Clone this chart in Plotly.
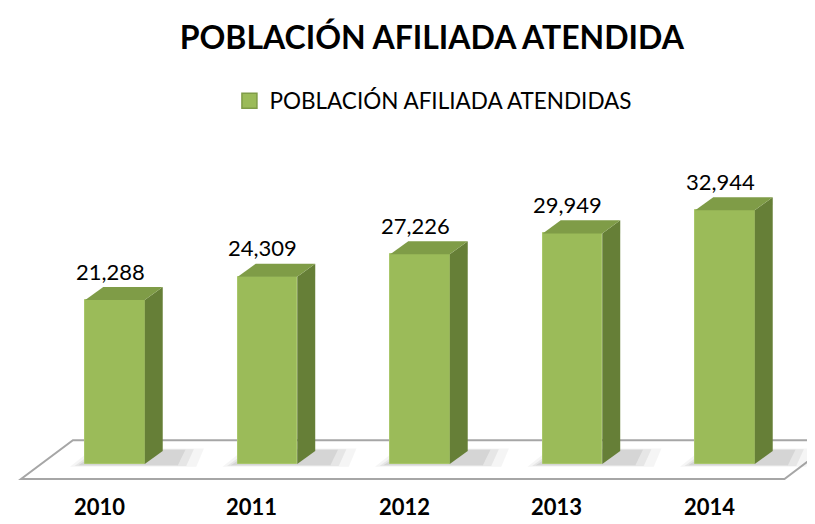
import plotly.graph_objects as go

years = ["2010", "2011", "2012", "2013", "2014"]
values = [21288, 24309, 27226, 29949, 32944]
labels = ["21,288", "24,309", "27,226", "29,949", "32,944"]
title_text = "POBLACIÓN AFILIADA ATENDIDA"
series_name = "POBLACIÓN AFILIADA ATENDIDAS"

FRONT = "#9BBB59"
SIDE = "#667F37"
TOP = "#7F9C47"
FONT = "Lato"

xs = list(range(len(years)))
w = 0.195      # half bar width (category units)
dx = 0.118     # depth offset in x units
dy = 1700      # depth offset in y units

fig = go.Figure()

fig.add_trace(go.Bar(x=xs, y=values, width=2 * w,
                     marker=dict(color=FRONT, line=dict(width=1, color="#A9C76B")),
                     showlegend=False, hoverinfo="skip"))
fig.add_trace(go.Scatter(x=[None], y=[None], mode="markers", name=series_name,
                         marker=dict(symbol="square", size=15, color=FRONT,
                                     line=dict(color="#7F9C47", width=1.5))))

shapes = []
# floor
fl = -0.616
fr = 4.39
fdx = 0.34
fy0 = -1950
fy1 = 3100
shapes.append(dict(type="path", xref="x", yref="y", layer="below",
                   path=f"M {fl},{fy0} L {fr},{fy0} L {fr+fdx},{fy1} L {fl+fdx},{fy1} Z",
                   fillcolor="white", line=dict(color="#A6A6A6", width=2)))
for i, v in zip(xs, values):
    # soft shadow on the floor
    for k, op in [(1.0, 0.08), (0.7, 0.12), (0.45, 0.16)]:
        x0 = i - w - 0.10 * k
        x1 = i + w + dx + 0.22 * k
        y0 = -350 * k
        y1 = dy + 300 * k
        shapes.append(dict(type="path", xref="x", yref="y", layer="below",
                           path=f"M {x0},{y0} L {x1},{y0} L {x1+0.05},{y1} L {x0+0.15},{y1} Z",
                           fillcolor="#7F7F7F", opacity=op, line=dict(width=0)))
    # side face
    shapes.append(dict(type="path", xref="x", yref="y", layer="above",
                       path=f"M {i+w},{0} L {i+w+dx},{dy} L {i+w+dx},{v+dy} L {i+w},{v} Z",
                       fillcolor=SIDE, line=dict(width=0)))
    # top face
    shapes.append(dict(type="path", xref="x", yref="y", layer="above",
                       path=f"M {i-w},{v} L {i-w+dx},{v+dy} L {i+w+dx},{v+dy} L {i+w},{v} Z",
                       fillcolor=TOP, line=dict(width=0)))

annotations = []
for i, v, t in zip(xs, values, labels):
    annotations.append(dict(x=i, y=v, xref="x", yref="y", text=t, showarrow=False,
                            xshift=-5, yshift=29, yanchor="middle",
                            font=dict(family=FONT, size=22, color="#000000")))
for i, yr in zip(xs, years):
    annotations.append(dict(x=i, y=fy0, xref="x", yref="y", text=f"<b>{yr}</b>", showarrow=False,
                            xshift=-16, yshift=-27, yanchor="middle",
                            font=dict(family=FONT, size=22, color="#000000")))

fig.update_layout(
    width=815, height=524,
    margin=dict(l=0, r=0, t=130, b=14, pad=0, autoexpand=False),
    paper_bgcolor="white", plot_bgcolor="white",
    title=dict(text=f"<b>{title_text}</b>", x=0.52, xref="container", y=1 - 30 / 524,
               yref="container", xanchor="center", yanchor="middle",
               font=dict(family=FONT, size=32, color="#000000")),
    legend=dict(orientation="h", x=0.522, xref="container", xanchor="center",
                y=1 - 93 / 524, yref="container", yanchor="middle",
                font=dict(family=FONT, size=22.5, color="#000000"), itemwidth=30),
    xaxis=dict(range=[-107 / 152.5, (815 - 107) / 152.5], visible=False, fixedrange=True),
    yaxis=dict(range=[(456 - 510) / 0.0077, (456 - 130) / 0.0077], visible=False, fixedrange=True),
    shapes=shapes, annotations=annotations,
    bargap=0,
)

fig.write_html("out.html")
